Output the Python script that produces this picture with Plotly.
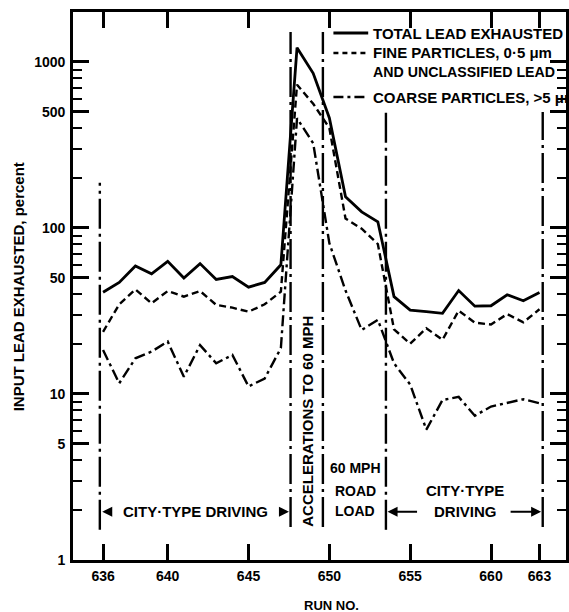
import plotly.graph_objects as go

# ---- data -------------------------------------------------------------
runs = list(range(636, 664))

total_lead = [41, 47, 59, 53, 63, 50, 61, 49, 51, 44, 47, 60,
              1220, 855, 460, 154, 125, 109, 38.6, 32, 31.3, 30.6,
              42, 33.8, 34, 39.6, 36.4, 40.8]

fine_particles = [23.7, 34.7, 42.7, 35.2, 41.7, 38.6, 41.7, 34.4, 33.1, 31.3,
                  34.7, 41.3, 730, 560, 400, 114, 99, 80, 24.5, 20.1, 24.9,
                  21.2, 31.8, 26.9, 26.2, 30.3, 27, 32.4]

coarse_particles = [18.4, 11.6, 16.4, 18.0, 20.7, 12.7, 19.7, 15.3, 17.2, 11.1,
                    12.4, 18.9, 458, 324, 81, 42, 24.3, 28, 15.3, 11.4, 6.1,
                    9.2, 9.6, 7.4, 8.4, 8.8, 9.3, 8.8]

x_ticks = [636, 640, 645, 650, 655, 660, 663]
y_major = [1, 5, 10, 50, 100, 500, 1000]
y_minor = [m * d for d in (1, 10, 100, 1000) for m in (2, 3, 4, 6, 7, 8, 9)
           if m * d < 2000]

# driving-phase boundaries: run position, lower and upper extent
phase_x = [635.8, 647.6, 649.6, 653.5, 663.2]
phase_lo = [1.52, 1.58, 1.58, 1.52, 1.58]
phase_hi = [187, 1517, 1517, 500, 500]

INK = "#000000"
FONT = "Liberation Sans"
Y_RANGE = [0, 3.301]

fig = go.Figure()

# phase boundary lines (drawn against the overlaid major-tick axis, same scale)
for px, lo, hi in zip(phase_x, phase_lo, phase_hi):
    fig.add_trace(go.Scatter(
        x=[px, px], y=[lo, hi], mode="lines", showlegend=False,
        hoverinfo="skip", yaxis="y2",
        line=dict(color=INK, width=2.4, dash="30px,5px,3px,5px")))

# data series
fig.add_trace(go.Scatter(
    x=runs, y=total_lead, mode="lines", name="TOTAL LEAD EXHAUSTED",
    line=dict(color=INK, width=2.8)))
fig.add_trace(go.Scatter(
    x=runs, y=fine_particles, mode="lines",
    name="FINE PARTICLES, 0·5 μm AND UNCLASSIFIED LEAD",
    line=dict(color=INK, width=2.4, dash="7px,4px")))
fig.add_trace(go.Scatter(
    x=runs, y=coarse_particles, mode="lines", name="COARSE PARTICLES, >5 μm",
    line=dict(color=INK, width=2.4, dash="11px,4px,3px,4px")))


def py(pixel_y):
    """Convert a vertical page position inside the plot to paper units."""
    return (560 - pixel_y) / 548


def pxp(pixel_x):
    return (pixel_x - 73) / 496


shapes = []
annotations = []

legend_font = dict(size=15, family=FONT, color=INK, weight="bold")

# legend keys
legend_rows = [
    ("solid", 33, "TOTAL LEAD EXHAUSTED", 2.8),
    ("5px,4px", 53, "FINE PARTICLES, 0·5 μm", 2.4),
    ("10px,4px,3px,4px", 97, "COARSE PARTICLES, >5 μm", 2.4),
]
for dash, yy, label, w in legend_rows:
    shapes.append(dict(type="line", xref="paper", yref="paper",
                       x0=pxp(335), x1=pxp(370), y0=py(yy), y1=py(yy),
                       line=dict(color=INK, width=w, dash=dash)))
    annotations.append(dict(xref="paper", yref="paper", x=pxp(373), y=py(yy),
                            xanchor="left", yanchor="middle", text=label,
                            showarrow=False, font=legend_font))
annotations.append(dict(xref="paper", yref="paper", x=pxp(373), y=py(72),
                        xanchor="left", yanchor="middle",
                        text="AND UNCLASSIFIED LEAD", showarrow=False,
                        font=dict(legend_font, size=14.2)))

label_font = dict(size=15, family=FONT, color=INK, weight="bold")
small_font = dict(size=14, family=FONT, color=INK, weight="bold")


def phase_label(x, pixel_y, text, font, angle=0):
    return dict(x=x, xref="x", yref="paper", y=py(pixel_y), text=text,
                xanchor="center", yanchor="middle", textangle=angle,
                showarrow=False, font=font)


# phase labels
annotations += [
    phase_label(641.73, 511.7, "CITY·TYPE DRIVING", label_font),
    phase_label(648.6, 421, "ACCELERATIONS TO 60 MPH", label_font, -90),
    phase_label(651.6, 468, "60 MPH", small_font),
    phase_label(651.6, 490.7, "ROAD", small_font),
    phase_label(651.6, 511, "LOAD", small_font),
    phase_label(658.4, 490.7, "CITY·TYPE", label_font),
    phase_label(658.4, 511, "DRIVING", label_font),
]

# phase arrows (head at x, tail offset ax in pixels)
for hx, ax in [(635.95, 11), (647.5, -11), (653.6, 31), (663.1, -32)]:
    annotations.append(dict(x=hx, xref="x", yref="paper", y=py(511.7),
                            ax=ax, ay=0, text="", showarrow=True,
                            arrowhead=2, arrowsize=1, arrowwidth=2,
                            arrowcolor=INK, standoff=0, startstandoff=0))

# axis titles
annotations += [
    dict(xref="paper", yref="paper", x=pxp(18), y=py(287),
         text="INPUT LEAD EXHAUSTED, percent", textangle=-90,
         showarrow=False, xanchor="center", yanchor="middle",
         font=dict(size=15, family=FONT, color=INK, weight="bold")),
    dict(xref="paper", yref="paper", x=pxp(333), y=py(605), text="RUN NO.",
         showarrow=False, xanchor="center", yanchor="middle",
         font=dict(size=13, family=FONT, color=INK, weight="bold")),
]

tick_font = dict(size=14, family=FONT, color=INK, weight="bold")

# every decade subdivision gets a short tick; only the major ones are labelled
all_ticks = sorted(y_major + y_minor)
all_text = [str(v) if v in y_major else "" for v in all_ticks]

fig.update_layout(
    width=569, height=612,
    margin=dict(l=73, r=0, t=12, b=52),
    paper_bgcolor="white", plot_bgcolor="white",
    showlegend=False,
    shapes=shapes, annotations=annotations,
    xaxis=dict(range=[634.14, 664.64], tickvals=x_ticks,
               ticks="inside", ticklen=16, tickwidth=2.5, tickcolor=INK,
               showline=True, linewidth=2.6, linecolor=INK, mirror="ticks",
               showgrid=False, zeroline=False, tickfont=tick_font,
               ticklabelstandoff=1),
    yaxis=dict(type="log", range=Y_RANGE, tickmode="array",
               tickvals=all_ticks, ticktext=all_text,
               ticks="inside", ticklen=9, tickwidth=2.4, tickcolor=INK,
               showline=True, linewidth=2.6, linecolor=INK, mirror="ticks",
               showgrid=False, zeroline=False, tickfont=tick_font,
               ticklabelstandoff=2),
    # longer major ticks on an overlaid axis sharing the same log scale
    yaxis2=dict(type="log", range=Y_RANGE, overlaying="y", side="left",
                anchor="x", tickmode="array", tickvals=y_major,
                showticklabels=False,
                ticks="inside", ticklen=16, tickwidth=2.6, tickcolor=INK,
                showline=True, linewidth=2.6, linecolor=INK, mirror="ticks",
                showgrid=False, zeroline=False),
)

fig.write_html("out.html")
